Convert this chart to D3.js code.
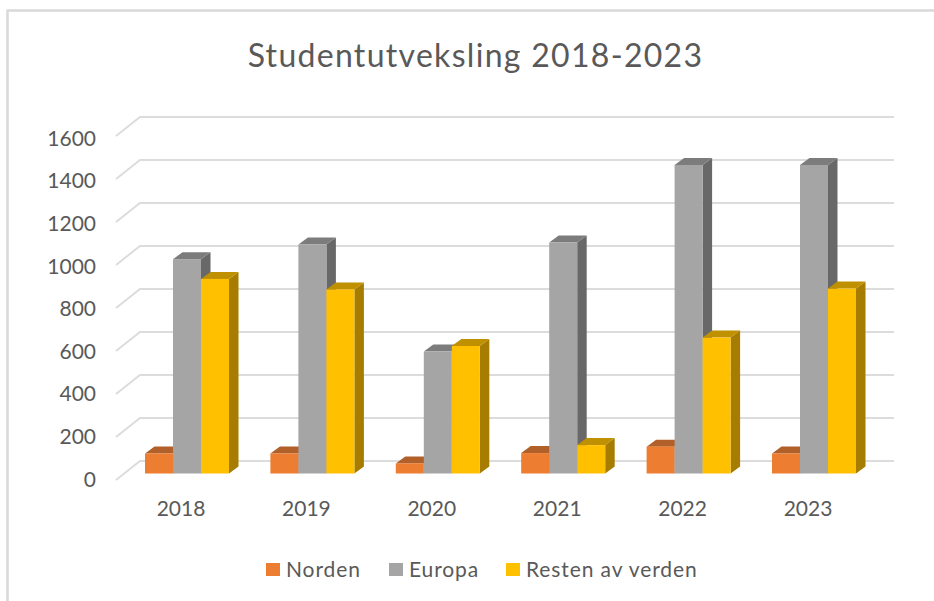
<!DOCTYPE html>
<html>
<head>
<meta charset="utf-8">
<script src="https://d3js.org/d3.v7.min.js"></script>
<style>
  html, body { margin: 0; padding: 0; background: #fff; overflow: hidden; }
  text { font-family: Lato, "Open Sans", sans-serif; fill: #595959; }
</style>
</head>
<body>
<div id="chart"></div>
<script>
const years = ["2018", "2019", "2020", "2021", "2022", "2023"];
const seriesNames = ["Norden", "Europa", "Resten av verden"];
const norden = [93, 93, 47, 95, 125, 93];
const europa = [997, 1065, 567, 1074, 1435, 1435];
const resten = [905, 856, 593, 132, 632, 860];
const yTicks = [0, 200, 400, 600, 800, 1000, 1200, 1400, 1600];
const seriesValues = [norden, europa, resten];

// front, top and side shade of each series
const colors = ["#ED7D31", "#A5A5A5", "#FFC000"];
const topColors = ["#B2602A", "#7C7C7C", "#BF9000"];
const sideColors = ["#A85A25", "#686868", "#A67D00"];

const width = 934, height = 601;
const depthX = 9.5, depthY = 7;

const svg = d3.select("#chart").append("svg")
    .attr("width", width)
    .attr("height", height)
    .style("display", "block");

// chart frame, cut off by the screenshot on the right and at the bottom
svg.append("path")
    .attr("d", `M7.5,${height} V10.5 H${width}`)
    .attr("fill", "none")
    .attr("stroke", "#d9d9d9")
    .attr("stroke-width", 2.5);

svg.append("text")
    .attr("x", 475.5)
    .attr("y", 67)
    .attr("text-anchor", "middle")
    .style("font-size", "32px")
    .style("letter-spacing", "1.3px")
    .text("Studentutveksling 2018-2023");

const x = d3.scaleBand().domain(years).range([125, 877.4]);
const xSeries = d3.scaleBand().domain(seriesNames).range([20, 104]);
const y = d3.scaleLinear().domain([0, 1600]).range([473.5, 129.5]);
// tick labels sit on the front edge of the side wall, a little tighter than the bars
const yLabels = d3.scaleLinear().domain([0, 1600]).range([479.5, 138.5]);

// grid on the back wall, with the diagonal down the side wall
const grid = svg.append("g").attr("class", "grid");
yTicks.forEach(v => {
    const back = y(v) - 12.5;
    grid.append("path")
        .attr("d", `M116,${back + 19} L140,${back} H894`)
        .attr("fill", "none")
        .attr("stroke", "#dcdcdc")
        .attr("stroke-width", 2);
});

// bars are drawn left to right so each front covers the side of the one before
years.forEach((year, i) => {
    const g = svg.append("g").attr("class", "group");
    seriesNames.forEach((name, s) => {
        const x0 = x(year) + xSeries(name);
        const x1 = x0 + xSeries.bandwidth();
        const top = y(seriesValues[s][i]);
        const base = y(0);
        g.append("path")
            .attr("d", `M${x1},${top} L${x1 + depthX},${top - depthY} V${base - depthY} L${x1},${base} Z`)
            .attr("fill", sideColors[s]);
        g.append("path")
            .attr("d", `M${x0},${top} L${x0 + depthX},${top - depthY} H${x1 + depthX} L${x1},${top} Z`)
            .attr("fill", topColors[s]);
        g.append("rect")
            .attr("x", x0)
            .attr("y", top)
            .attr("width", x1 - x0)
            .attr("height", base - top)
            .attr("fill", colors[s]);
    });
});

// Y axis
const yAxis = svg.append("g")
    .attr("transform", "translate(96,0)")
    .call(d3.axisLeft(yLabels).tickValues(yTicks).tickSize(0).tickPadding(0).tickFormat(d3.format("d")));
yAxis.select(".domain").remove();
yAxis.selectAll("text")
    .style("font-family", "Lato, sans-serif")
    .style("font-size", "21px")
    .attr("fill", "#595959");

// X axis
const xAxis = svg.append("g")
    .attr("transform", "translate(-6.7,501)")
    .call(d3.axisBottom(x).tickSize(0).tickPadding(0));
xAxis.select(".domain").remove();
xAxis.selectAll("text")
    .style("font-family", "Lato, sans-serif")
    .style("font-size", "21px")
    .attr("fill", "#595959");

// Legend
const legendSwatchX = d3.scaleOrdinal().domain(seriesNames).range([266, 389, 506]);
const legend = svg.append("g").attr("class", "legend");
seriesNames.forEach((name, s) => {
    legend.append("rect")
        .attr("x", legendSwatchX(name))
        .attr("y", 563)
        .attr("width", 14)
        .attr("height", 13)
        .attr("fill", colors[s]);
    legend.append("text")
        .attr("x", legendSwatchX(name) + 20)
        .attr("y", 576.5)
        .style("font-size", "21px")
        .style("letter-spacing", "0.9px")
        .text(name);
});
</script>
</body>
</html>
